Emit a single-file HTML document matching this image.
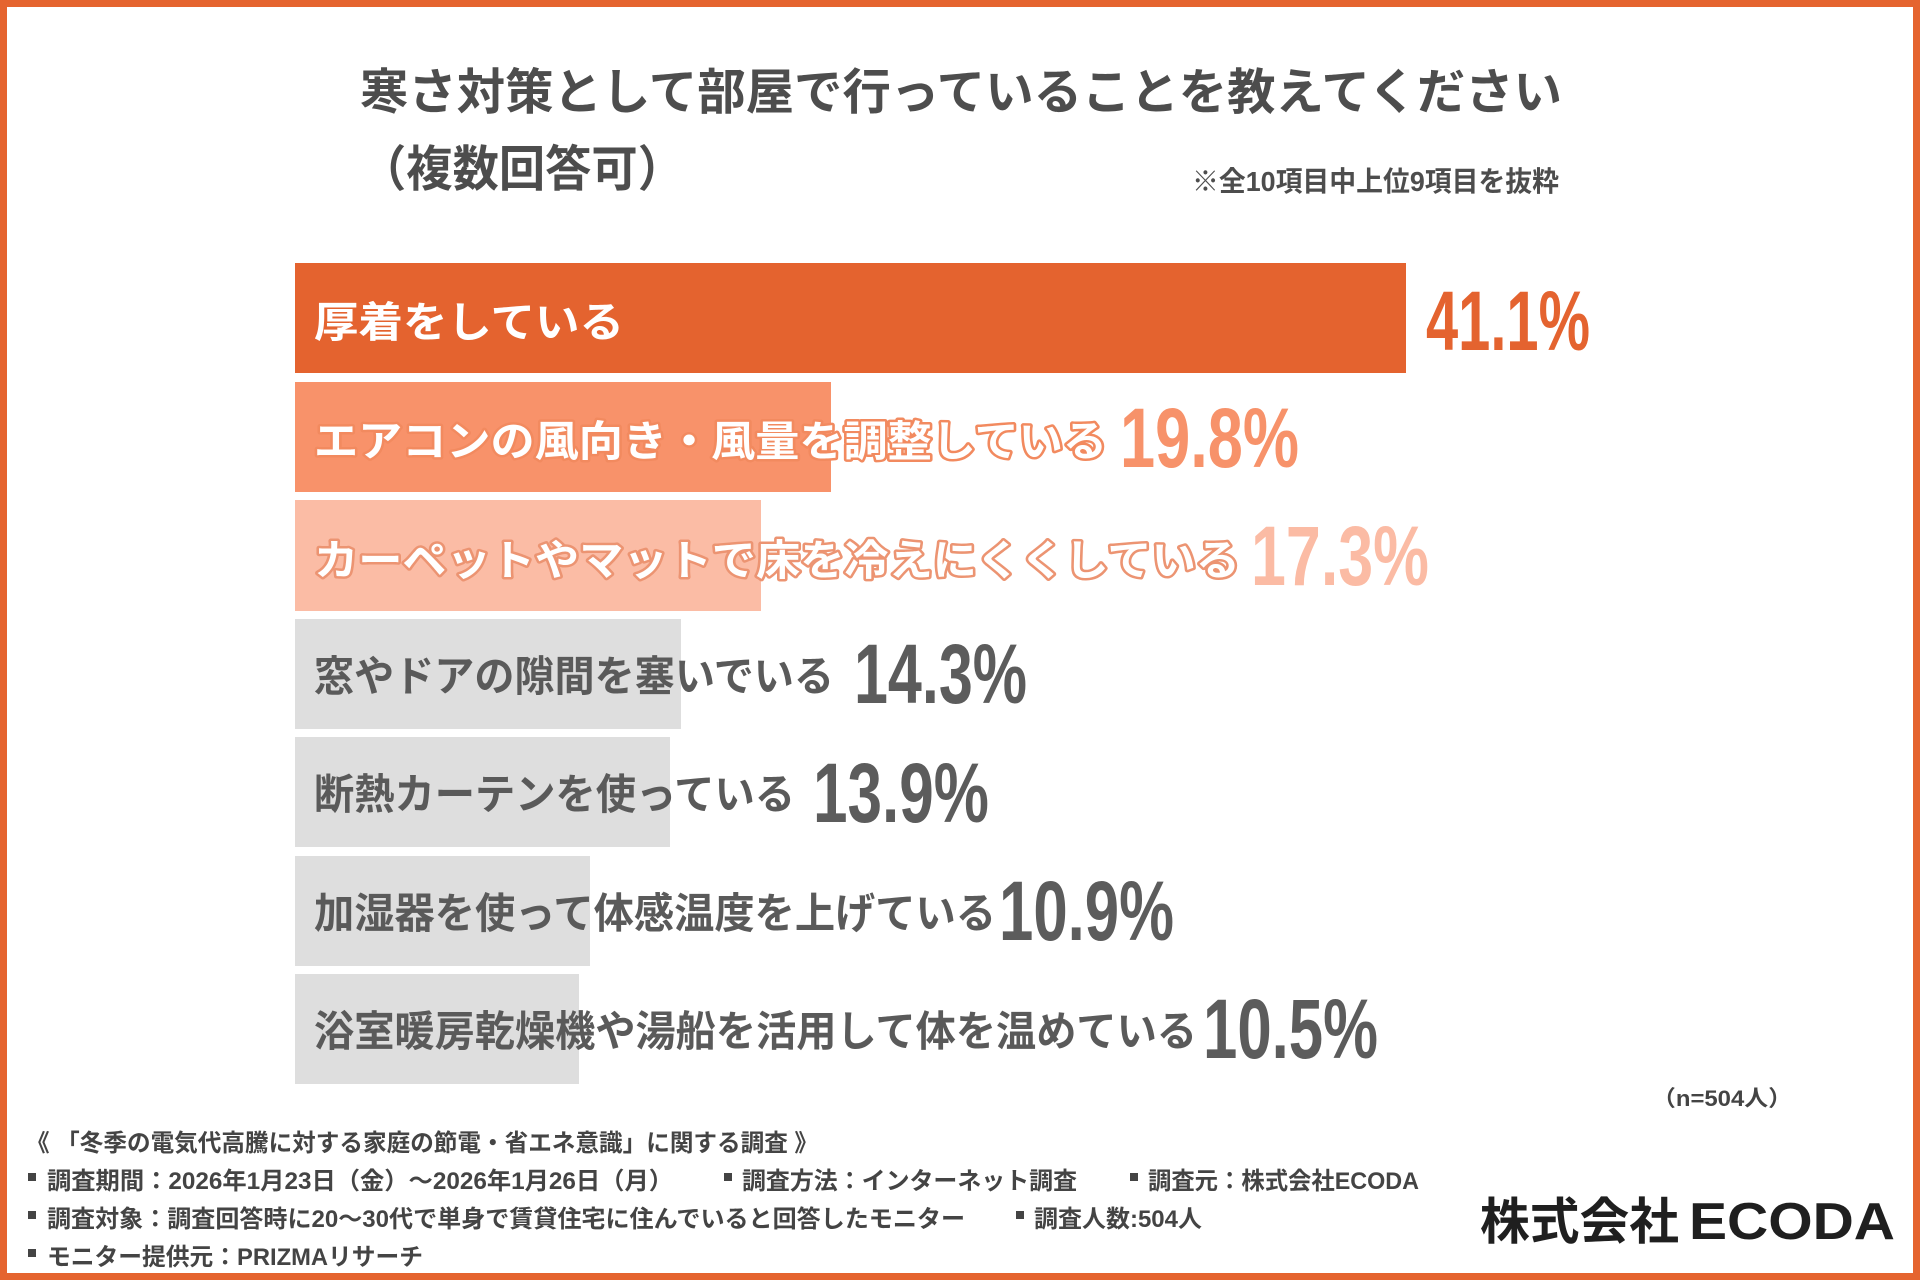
<!DOCTYPE html>
<html>
<head>
<meta charset="utf-8">
<style>
html,body{margin:0;padding:0;background:#fff;}
svg{display:block;}
text{font-family:"Liberation Sans","Noto Sans CJK JP",sans-serif;font-weight:bold;}
.pct{font-family:"Liberation Sans",sans-serif;font-weight:bold;}
</style>
</head>
<body>
<svg width="1920" height="1280" viewBox="0 0 1920 1280" xmlns="http://www.w3.org/2000/svg">
  <rect x="0" y="0" width="1920" height="1280" fill="#ffffff"/>
  <rect x="3.5" y="3.5" width="1913" height="1273" fill="none" stroke="#E5642F" stroke-width="7"/>

  <!-- Title -->
  <text x="360" y="109" font-size="49" fill="#4D4D4D" textLength="1202" lengthAdjust="spacingAndGlyphs">寒さ対策として部屋で行っていることを教えてください</text>
  <text x="360" y="186" font-size="49" fill="#4D4D4D" textLength="324" lengthAdjust="spacingAndGlyphs">（複数回答可）</text>
  <text x="1192" y="191" font-size="28" fill="#4D4D4D" textLength="367" lengthAdjust="spacingAndGlyphs">※全10項目中上位9項目を抜粋</text>

  <!-- Bars -->
  <rect x="295" y="263" width="1111" height="110" fill="#E4632F"/>
  <rect x="295" y="382" width="536" height="110" fill="#F8926A"/>
  <rect x="295" y="500" width="466" height="111" fill="#FBBCA5"/>
  <rect x="295" y="619" width="386" height="110" fill="#DEDEDE"/>
  <rect x="295" y="737" width="375" height="110" fill="#DEDEDE"/>
  <rect x="295" y="856" width="295" height="110" fill="#DEDEDE"/>
  <rect x="295" y="974" width="284" height="110" fill="#DEDEDE"/>

  <!-- Labels -->
  <text x="314" y="337" font-size="42" fill="#ffffff" textLength="310" lengthAdjust="spacingAndGlyphs">厚着をしている</text>
  <text x="314" y="456" font-size="42" fill="#ffffff" stroke="#F28A5F" stroke-width="5" stroke-linejoin="round" paint-order="stroke" textLength="793" lengthAdjust="spacingAndGlyphs">エアコンの風向き・風量を調整している</text>
  <text x="314" y="575" font-size="42" fill="#ffffff" stroke="#EC9472" stroke-width="5" stroke-linejoin="round" paint-order="stroke" textLength="926" lengthAdjust="spacingAndGlyphs">カーペットやマットで床を冷えにくくしている</text>
  <text x="314" y="691" font-size="42" fill="#5A5A5A" textLength="520" lengthAdjust="spacingAndGlyphs">窓やドアの隙間を塞いでいる</text>
  <text x="314" y="809" font-size="42" fill="#5A5A5A" textLength="481" lengthAdjust="spacingAndGlyphs">断熱カーテンを使っている</text>
  <text x="314" y="928" font-size="42" fill="#5A5A5A" textLength="682" lengthAdjust="spacingAndGlyphs">加湿器を使って体感温度を上げている</text>
  <text x="314" y="1046" font-size="42" fill="#5A5A5A" textLength="883" lengthAdjust="spacingAndGlyphs">浴室暖房乾燥機や湯船を活用して体を温めている</text>

  <!-- Percentages -->
  <text class="pct" x="1426" y="350" font-size="84" fill="#E4632F" textLength="164" lengthAdjust="spacingAndGlyphs">41.1%</text>
  <text class="pct" x="1120" y="467" font-size="84" fill="#F7926A" textLength="179" lengthAdjust="spacingAndGlyphs">19.8%</text>
  <text class="pct" x="1251" y="585" font-size="84" fill="#FBBBA4" textLength="178" lengthAdjust="spacingAndGlyphs">17.3%</text>
  <text class="pct" x="854" y="703" font-size="84" fill="#5C5C5C" textLength="173" lengthAdjust="spacingAndGlyphs">14.3%</text>
  <text class="pct" x="813" y="822" font-size="84" fill="#5C5C5C" textLength="176" lengthAdjust="spacingAndGlyphs">13.9%</text>
  <text class="pct" x="999" y="940" font-size="84" fill="#5C5C5C" textLength="175" lengthAdjust="spacingAndGlyphs">10.9%</text>
  <text class="pct" x="1203" y="1058" font-size="84" fill="#5C5C5C" textLength="175" lengthAdjust="spacingAndGlyphs">10.5%</text>

  <!-- n -->
  <text x="1652" y="1106" font-size="22" fill="#444444" textLength="140" lengthAdjust="spacingAndGlyphs">（n=504人）</text>

  <!-- Footer -->
  <text x="26" y="1151" font-size="24" fill="#444444" textLength="792" lengthAdjust="spacingAndGlyphs">《 「冬季の電気代高騰に対する家庭の節電・省エネ意識」に関する調査 》</text>

  <rect x="28" y="1173" width="8" height="8" fill="#444444"/>
  <text x="47" y="1189" font-size="24" fill="#444444" textLength="626" lengthAdjust="spacingAndGlyphs">調査期間：2026年1月23日（金）～2026年1月26日（月）</text>
  <rect x="724" y="1173" width="8" height="8" fill="#444444"/>
  <text x="742" y="1189" font-size="24" fill="#444444" textLength="335" lengthAdjust="spacingAndGlyphs">調査方法：インターネット調査</text>
  <rect x="1130" y="1173" width="8" height="8" fill="#444444"/>
  <text x="1148" y="1189" font-size="24" fill="#444444" textLength="271" lengthAdjust="spacingAndGlyphs">調査元：株式会社ECODA</text>

  <rect x="28" y="1211" width="8" height="8" fill="#444444"/>
  <text x="47" y="1227" font-size="24" fill="#444444" textLength="918" lengthAdjust="spacingAndGlyphs">調査対象：調査回答時に20～30代で単身で賃貸住宅に住んでいると回答したモニター</text>
  <rect x="1016" y="1211" width="8" height="8" fill="#444444"/>
  <text x="1034" y="1227" font-size="24" fill="#444444" textLength="168" lengthAdjust="spacingAndGlyphs">調査人数:504人</text>

  <rect x="28" y="1249" width="8" height="8" fill="#444444"/>
  <text x="47" y="1265" font-size="24" fill="#444444" textLength="376" lengthAdjust="spacingAndGlyphs">モニター提供元：PRIZMAリサーチ</text>

  <!-- Logo -->
  <text x="1480" y="1239" font-size="50" fill="#1F1F1F" textLength="199" lengthAdjust="spacingAndGlyphs">株式会社</text>
  <text class="pct" x="1689" y="1239" font-size="52" fill="#1F1F1F" textLength="206" lengthAdjust="spacingAndGlyphs">ECODA</text>
</svg>
</body>
</html>
